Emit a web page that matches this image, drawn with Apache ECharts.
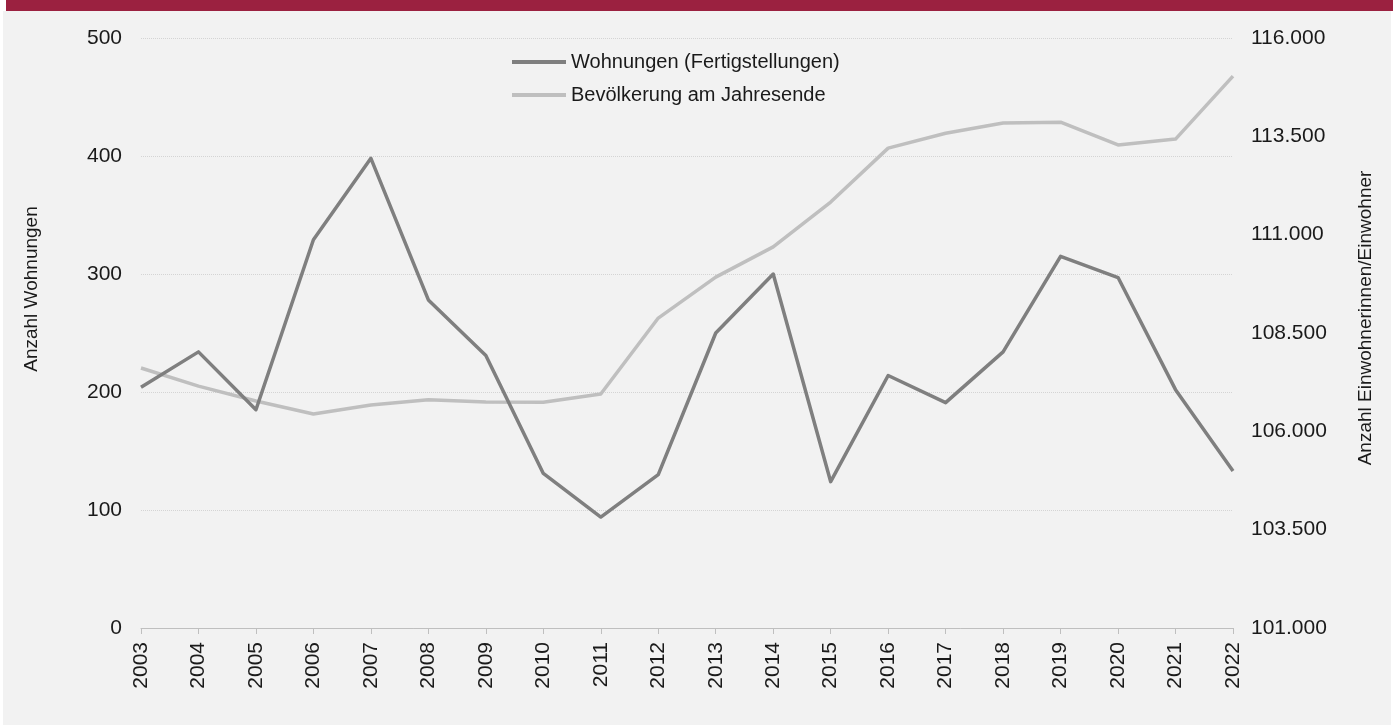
<!DOCTYPE html>
<html lang="de">
<head>
<meta charset="utf-8">
<title>Wohnungen und Bevölkerung 2003–2022</title>
<script src="https://cdn.jsdelivr.net/npm/echarts@6/dist/echarts.min.js"></script>
<style>
  html, body { margin: 0; padding: 0; background: #ffffff; }
  #panel { position: absolute; left: 3px; top: 11px; width: 1388px; height: 714px; background: #f2f2f2; }
  #bar { position: absolute; left: 6px; top: 0; width: 1387px; height: 11px; background: #9b2140; }
  #chart { position: absolute; left: 0; top: 0; width: 1397px; height: 725px; }
</style>
</head>
<body>
<div id="panel"></div>
<div id="bar"></div>
<div id="chart"></div>
<script>
// Jahre
const years = ['2003','2004','2005','2006','2007','2008','2009','2010','2011','2012',
               '2013','2014','2015','2016','2017','2018','2019','2020','2021','2022'];

// Fertiggestellte Wohnungen je Jahr
const wohnungen = [204, 234, 185, 329, 398, 278, 231, 131, 94, 130,
                   250, 300, 124, 214, 191, 234, 315, 297, 202, 133];

// Bevölkerung am Jahresende
const bevoelkerung = [107610, 107150, 106770, 106440, 106670, 106800, 106745, 106740, 106950, 108880,
                      109920, 110690, 111830, 113200, 113580, 113840, 113860, 113280, 113430, 115030];

const seriesNames = ['Wohnungen (Fertigstellungen)', 'Bevölkerung am Jahresende'];
const axisNames = ['Anzahl Wohnungen', 'Anzahl Einwohnerinnen/Einwohner'];

const FONT = '"Liberation Sans", Arial, sans-serif';
const fmtDE = v => String(v).replace(/\B(?=(\d{3})+(?!\d))/g, '.');

const chart = echarts.init(document.getElementById('chart'), null, { renderer: 'canvas' });

chart.setOption({
  backgroundColor: 'transparent',
  animation: false,
  textStyle: { fontFamily: FONT },
  grid: { left: 141, right: 164, top: 38, bottom: 97, containLabel: false },
  legend: {
    orient: 'vertical',
    left: 507,
    top: 46,
    icon: 'rect',
    itemWidth: 54,
    itemHeight: 4,
    itemGap: 11,
    textStyle: { fontFamily: FONT, fontSize: 20, color: '#1a1a1a', lineHeight: 22 },
    data: seriesNames
  },
  xAxis: {
    type: 'category',
    data: years,
    boundaryGap: false,
    axisLine: { lineStyle: { color: '#bfbfbf', width: 1 } },
    axisTick: { show: true, length: 6, lineStyle: { color: '#bfbfbf' } },
    axisLabel: { rotate: 90, margin: 14, fontSize: 21, color: '#1a1a1a', fontFamily: FONT }
  },
  yAxis: [
    {
      type: 'value',
      min: 0, max: 500, interval: 100,
      axisLine: { show: false },
      axisTick: { show: false },
      axisLabel: { margin: 19, fontSize: 21, color: '#1a1a1a', fontFamily: FONT },
      splitLine: { show: true, lineStyle: { color: '#d4d4d4', type: 'dotted', width: 1 } }
    },
    {
      type: 'value',
      min: 101000, max: 116000, interval: 2500,
      position: 'right',
      axisLine: { show: false },
      axisTick: { show: false },
      axisLabel: { margin: 18, fontSize: 21, color: '#1a1a1a', fontFamily: FONT, formatter: fmtDE },
      splitLine: { show: false }
    }
  ],
  graphic: [
    {
      type: 'text', x: 32, y: 289, rotation: Math.PI / 2,
      style: { text: axisNames[0], fontSize: 19, fontFamily: FONT, fill: '#1a1a1a',
               align: 'center', verticalAlign: 'middle' }
    },
    {
      type: 'text', x: 1366, y: 318, rotation: Math.PI / 2,
      style: { text: axisNames[1], fontSize: 19, fontFamily: FONT, fill: '#1a1a1a',
               align: 'center', verticalAlign: 'middle' }
    }
  ],
  series: [
    {
      name: seriesNames[0],
      type: 'line',
      yAxisIndex: 0,
      data: wohnungen,
      symbol: 'none',
      lineStyle: { color: '#7f7f7f', width: 3.5, join: 'round' },
      itemStyle: { color: '#7f7f7f' },
      z: 3
    },
    {
      name: seriesNames[1],
      type: 'line',
      yAxisIndex: 1,
      data: bevoelkerung,
      symbol: 'none',
      lineStyle: { color: '#bfbfbf', width: 3.5, join: 'round' },
      itemStyle: { color: '#bfbfbf' },
      z: 2
    }
  ]
});
</script>
</body>
</html>
